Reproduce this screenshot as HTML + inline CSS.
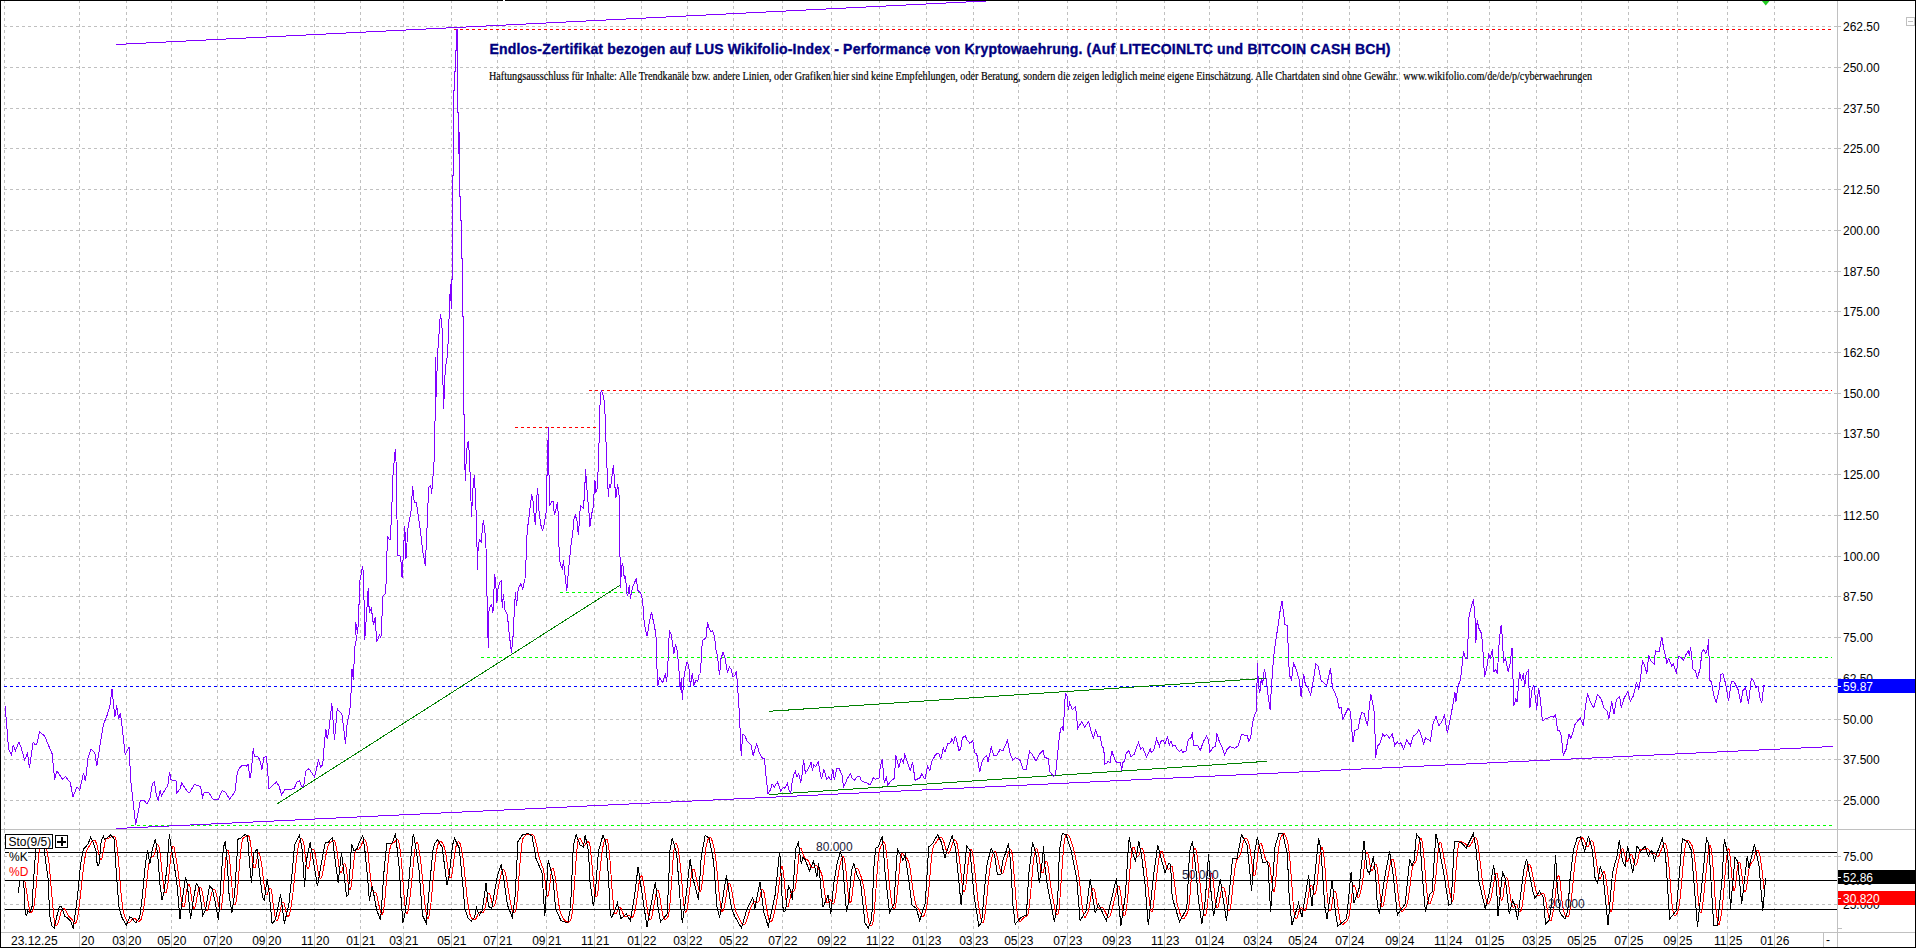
<!DOCTYPE html>
<html><head><meta charset="utf-8"><style>
html,body{margin:0;padding:0;background:#fff;overflow:hidden;width:1916px;height:948px}
svg{display:block}
text{font-family:"Liberation Sans",sans-serif}
</style></head><body>
<svg width="1916" height="948" viewBox="0 0 1916 948">
<rect x="0" y="0" width="1916" height="948" fill="#fff"/>
<path d="M4 26.5H1834M4 67.5H1834M4 108.5H1834M4 148.5H1834M4 189.5H1834M4 230.5H1834M4 271.5H1834M4 311.5H1834M4 352.5H1834M4 393.5H1834M4 433.5H1834M4 474.5H1834M4 515.5H1834M4 556.5H1834M4 596.5H1834M4 637.5H1834M4 678.5H1834M4 719.5H1834M4 759.5H1834M4 800.5H1834" stroke="#c0c0c0" stroke-width="1" stroke-dasharray="3 3" fill="none" shape-rendering="crispEdges"/>
<path d="M4.5 0V829M4.5 830V932M79.5 0V829M79.5 830V932M126.5 0V829M126.5 830V932M171.5 0V829M171.5 830V932M217.5 0V829M217.5 830V932M266.5 0V829M266.5 830V932M314.5 0V829M314.5 830V932M360.5 0V829M360.5 830V932M403.5 0V829M403.5 830V932M451.5 0V829M451.5 830V932M497.5 0V829M497.5 830V932M546.5 0V829M546.5 830V932M594.5 0V829M594.5 830V932M641.5 0V829M641.5 830V932M687.5 0V829M687.5 830V932M733.5 0V829M733.5 830V932M782.5 0V829M782.5 830V932M831.5 0V829M831.5 830V932M879.5 0V829M879.5 830V932M926.5 0V829M926.5 830V932M973.5 0V829M973.5 830V932M1018.5 0V829M1018.5 830V932M1067.5 0V829M1067.5 830V932M1116.5 0V829M1116.5 830V932M1164.5 0V829M1164.5 830V932M1209.5 0V829M1209.5 830V932M1257.5 0V829M1257.5 830V932M1302.5 0V829M1302.5 830V932M1349.5 0V829M1349.5 830V932M1399.5 0V829M1399.5 830V932M1447.5 0V829M1447.5 830V932M1489.5 0V829M1489.5 830V932M1536.5 0V829M1536.5 830V932M1581.5 0V829M1581.5 830V932M1628.5 0V829M1628.5 830V932M1677.5 0V829M1677.5 830V932M1727.5 0V829M1727.5 830V932M1774.5 0V829M1774.5 830V932" stroke="#c0c0c0" stroke-width="1" stroke-dasharray="3 3" fill="none" shape-rendering="crispEdges"/>
<path d="M4 856.5H1834M4 904.5H1834" stroke="#c0c0c0" stroke-width="1" stroke-dasharray="3 3" fill="none" shape-rendering="crispEdges"/>
<path d="M0 829.5H1916M0 932.5H1916M1837.5 0V948M1823.5 933V947" stroke="#c0c0c0" stroke-width="1" fill="none" shape-rendering="crispEdges"/>
<path d="M79.5 933V947M126.5 933V947M171.5 933V947M217.5 933V947M266.5 933V947M314.5 933V947M360.5 933V947M403.5 933V947M451.5 933V947M497.5 933V947M546.5 933V947M594.5 933V947M641.5 933V947M687.5 933V947M733.5 933V947M782.5 933V947M831.5 933V947M879.5 933V947M926.5 933V947M973.5 933V947M1018.5 933V947M1067.5 933V947M1116.5 933V947M1164.5 933V947M1209.5 933V947M1257.5 933V947M1302.5 933V947M1349.5 933V947M1399.5 933V947M1447.5 933V947M1489.5 933V947M1536.5 933V947M1581.5 933V947M1628.5 933V947M1677.5 933V947M1727.5 933V947M1774.5 933V947" stroke="#c0c0c0" stroke-width="1" fill="none" shape-rendering="crispEdges"/>
<path d="M1834 26.5H1841M1834 67.5H1841M1834 108.5H1841M1834 148.5H1841M1834 189.5H1841M1834 230.5H1841M1834 271.5H1841M1834 311.5H1841M1834 352.5H1841M1834 393.5H1841M1834 433.5H1841M1834 474.5H1841M1834 515.5H1841M1834 556.5H1841M1834 596.5H1841M1834 637.5H1841M1834 678.5H1841M1834 719.5H1841M1834 759.5H1841M1834 800.5H1841M1834 856.5H1841M1834 880.5H1841M1834 904.5H1841M1838 928.5H1842" stroke="#c0c0c0" stroke-width="1" fill="none" shape-rendering="crispEdges"/>
<text x="1843" y="31" font-size="12" fill="#000">262.50</text>
<text x="1843" y="72" font-size="12" fill="#000">250.00</text>
<text x="1843" y="113" font-size="12" fill="#000">237.50</text>
<text x="1843" y="153" font-size="12" fill="#000">225.00</text>
<text x="1843" y="194" font-size="12" fill="#000">212.50</text>
<text x="1843" y="235" font-size="12" fill="#000">200.00</text>
<text x="1843" y="276" font-size="12" fill="#000">187.50</text>
<text x="1843" y="316" font-size="12" fill="#000">175.00</text>
<text x="1843" y="357" font-size="12" fill="#000">162.50</text>
<text x="1843" y="398" font-size="12" fill="#000">150.00</text>
<text x="1843" y="438" font-size="12" fill="#000">137.50</text>
<text x="1843" y="479" font-size="12" fill="#000">125.00</text>
<text x="1843" y="520" font-size="12" fill="#000">112.50</text>
<text x="1843" y="561" font-size="12" fill="#000">100.00</text>
<text x="1843" y="601" font-size="12" fill="#000">87.50</text>
<text x="1843" y="642" font-size="12" fill="#000">75.00</text>
<text x="1843" y="683" font-size="12" fill="#000">62.50</text>
<text x="1843" y="724" font-size="12" fill="#000">50.00</text>
<text x="1843" y="764" font-size="12" fill="#000">37.500</text>
<text x="1843" y="805" font-size="12" fill="#000">25.000</text>
<text x="1843" y="861" font-size="12" fill="#000">75.00</text>
<text x="1843" y="909" font-size="12" fill="#000">25.000</text>
<text x="1843" y="885" font-size="12" fill="#000">50.00</text>
<path d="M454 29.5H1832M589 390.5H1832M515 427.5H600" stroke="#ff0000" stroke-width="1" stroke-dasharray="3 3" fill="none" shape-rendering="crispEdges"/>
<path d="M481 657.5H1832M131 825.5H1832M560 592.5H645" stroke="#00ff00" stroke-width="1" stroke-dasharray="3 3" fill="none" shape-rendering="crispEdges"/>
<path d="M4 686.5H1837" stroke="#0000ff" stroke-width="1" stroke-dasharray="3 3" fill="none" shape-rendering="crispEdges"/>
<path d="M116 44.5H126M126 43.5H146M146 42.5H166M166 41.5H186M186 40.5H206M206 39.5H226M226 38.5H246M246 37.5H266M266 36.5H286M286 35.5H306M306 34.5H326M326 33.5H346M346 32.5H366M366 31.5H386M386 30.5H406M406 29.5H426M426 28.5H446M446 27.5H466M466 26.5H486M486 25.5H506M506 24.5H526M526 23.5H546M546 22.5H566M566 21.5H586M586 20.5H606M606 19.5H626M626 18.5H646M646 17.5H666M666 16.5H686M686 15.5H706M706 14.5H726M726 13.5H746M746 12.5H766M766 11.5H786M786 10.5H806M806 9.5H826M826 8.5H846M846 7.5H866M866 6.5H886M886 5.5H906M906 4.5H926M926 3.5H946M946 2.5H966M966 1.5H986M986 0.5H1006M116 828.5H127M127 827.5H148M148 826.5H169M169 825.5H190M190 824.5H211M211 823.5H232M232 822.5H253M253 821.5H274M274 820.5H295M295 819.5H315M315 818.5H336M336 817.5H357M357 816.5H378M378 815.5H399M399 814.5H420M420 813.5H441M441 812.5H462M462 811.5H483M483 810.5H504M504 809.5H525M525 808.5H546M546 807.5H567M567 806.5H587M587 805.5H608M608 804.5H629M629 803.5H650M650 802.5H671M671 801.5H692M692 800.5H713M713 799.5H734M734 798.5H755M755 797.5H776M776 796.5H797M797 795.5H818M818 794.5H838M838 793.5H859M859 792.5H880M880 791.5H901M901 790.5H922M922 789.5H943M943 788.5H964M964 787.5H985M985 786.5H1006M1006 785.5H1027M1027 784.5H1048M1048 783.5H1069M1069 782.5H1090M1090 781.5H1110M1110 780.5H1131M1131 779.5H1152M1152 778.5H1173M1173 777.5H1194M1194 776.5H1215M1215 775.5H1236M1236 774.5H1257M1257 773.5H1278M1278 772.5H1299M1299 771.5H1320M1320 770.5H1341M1341 769.5H1361M1361 768.5H1382M1382 767.5H1403M1403 766.5H1424M1424 765.5H1445M1445 764.5H1466M1466 763.5H1487M1487 762.5H1508M1508 761.5H1529M1529 760.5H1550M1550 759.5H1571M1571 758.5H1592M1592 757.5H1613M1613 756.5H1633M1633 755.5H1654M1654 754.5H1675M1675 753.5H1696M1696 752.5H1717M1717 751.5H1738M1738 750.5H1759M1759 749.5H1780M1780 748.5H1801M1801 747.5H1822M1822 746.5H1833" stroke="#8000ff" stroke-width="1" fill="none" shape-rendering="crispEdges"/>
<path d="M277 804L620.5 585M769 711.3L1267 678.2M769 794.6L1267 761.3" stroke="#008000" stroke-width="1" fill="none" shape-rendering="crispEdges"/>
<polyline points="5.1,706.5 7.6,736.0 8.5,749.0 11.4,755.0 13.3,745.0 15.2,751.0 19.0,742.0 20.9,747.0 24.7,760.0 27.5,753.0 29.4,768.0 33.2,742.0 35.1,745.0 37.0,743.5 39.5,731.7 44.6,736.0 52.2,754.0 54.6,779.5 56.9,771.0 62.6,779.5 65.5,776.7 70.2,782.4 73.0,796.6 76.9,787.0 79.7,790.0 83.5,773.0 85.4,781.4 88.2,756.8 91.1,749.0 94.9,753.0 96.8,766.0 100.6,741.6 103.4,724.5 107.2,715.0 110.0,705.5 112.0,689.4 114.8,717.0 116.7,705.5 118.6,718.8 120.5,713.0 125.2,755.0 129.0,747.3 131.0,783.0 135.7,825.0 140.4,800.4 144.2,800.4 147.0,804.0 150.0,798.5 152.5,783.3 154.4,781.4 156.3,794.7 158.2,800.4 160.1,790.3 161.4,796.0 165.2,789.6 167.7,785.8 169.6,771.9 170.9,779.5 174.0,780.8 176.0,780.8 176.6,793.4 180.4,788.4 181.6,782.7 183.5,785.8 188.0,792.2 189.9,792.2 194.3,784.6 200.6,786.5 202.5,797.2 204.4,792.2 208.9,792.8 213.3,799.7 218.4,799.1 222.2,790.3 225.3,792.2 229.7,799.1 234.8,792.2 237.3,773.2 238.6,769.4 240.5,766.8 243.0,764.9 246.2,766.2 248.1,764.3 250.0,778.2 251.3,771.3 253.2,748.5 254.4,756.7 257.6,756.7 259.5,759.2 262.0,769.4 263.9,757.3 266.5,756.7 269.0,789.0 272.2,785.8 276.6,782.0 279.1,786.5 281.6,794.7 285.4,789.0 289.2,789.6 294.3,788.4 296.8,782.0 299.4,780.8 301.9,787.0 303.8,785.8 305.7,771.3 308.9,768.7 314.6,777.0 318.4,760.5 320.9,767.5 322.8,764.3 324.7,739.6 326.0,729.5 327.2,739.0 329.1,728.9 331.8,703.5 334.5,740.4 337.2,708.7 339.8,711.9 341.9,714.0 345.5,743.5 347.2,722.4 349.3,714.0 350.3,705.6 351.4,686.6 352.0,668.6 353.5,680.3 354.5,648.6 356.2,640.2 355.6,622.2 357.7,633.8 358.8,610.6 359.8,581.1 362.6,566.3 363.6,574.8 364.7,640.2 366.1,621.2 368.2,588.5 369.3,612.7 371.4,608.5 373.5,625.4 375.2,617.0 376.7,642.3 379.4,634.9 380.9,638.1 383.0,595.9 385.1,593.8 386.5,578.3 386.9,553.0 387.9,537.2 390.0,540.3 391.1,523.5 392.2,498.1 392.8,477.0 394.3,460.2 395.3,448.6 396.4,468.6 397.0,519.2 397.8,555.1 400.6,556.2 402.1,578.3 403.8,544.6 404.8,525.6 405.9,559.3 408.0,527.7 411.1,510.8 412.6,486.5 414.3,502.4 416.4,502.4 420.6,531.9 422.7,550.9 425.3,565.7 427.4,519.2 428.6,487.6 430.8,485.5 431.6,493.9 433.3,472.8 434.3,458.1 435.2,411.0 435.4,357.0 436.5,397.2 437.3,356.1 438.6,341.3 439.6,323.4 440.5,313.9 441.5,321.3 442.6,335.0 442.8,376.1 443.6,408.8 445.3,367.7 447.0,358.2 448.5,337.1 449.5,302.3 450.6,284.3 451.2,308.6 451.5,279.0 452.5,279.0 452.5,175.0 453.5,175.0 453.5,90.0 454.5,90.0 454.5,71.0 455.5,71.0 455.5,50.0 456.5,50.0 456.5,29.0 457.5,29.0 457.5,112.0 458.5,112.0 458.5,154.0 459.5,132.0 459.5,196.0 460.5,196.0 460.5,220.0 461.5,220.0 461.5,258.0 462.5,258.0 462.5,316.0 463.5,316.0 463.5,414.0 464.5,414.0 464.5,456.0 465.4,481.0 466.4,454.0 467.6,443.0 468.4,442.2 469.3,454.0 470.1,474.3 471.0,501.3 471.5,517.3 472.7,491.1 474.3,475.1 475.2,491.1 476.0,509.7 476.9,540.1 477.4,570.4 478.2,545.1 479.4,540.1 481.1,541.8 482.3,530.0 483.3,519.8 484.5,528.3 485.7,538.4 486.7,570.4 487.3,621.0 488.4,648.0 489.0,610.9 490.4,605.8 491.7,604.1 492.9,613.4 493.8,594.0 494.6,573.8 495.8,583.9 496.8,603.3 498.0,588.9 499.7,582.2 501.4,580.5 502.2,607.5 503.5,594.0 504.7,609.2 507.3,614.3 509.3,634.5 511.5,653.1 513.2,634.5 514.3,610.9 515.4,592.3 516.5,605.8 518.2,588.9 520.8,583.9 522.8,588.9 525.0,578.8 526.2,556.9 526.7,540.1 527.5,528.3 528.9,518.1 530.0,508.0 531.7,494.5 532.9,499.6 534.3,516.5 535.4,524.9 536.8,497.9 537.6,487.8 539.2,513.3 540.9,525.1 542.6,531.1 544.3,523.5 546.0,513.3 546.8,484.6 547.7,447.5 548.5,427.3 548.8,467.8 549.9,505.7 551.5,501.5 553.2,501.5 554.4,515.0 556.1,508.3 557.4,502.4 558.6,520.1 559.2,558.8 560.9,565.6 562.6,568.9 563.4,560.5 565.1,575.7 566.8,590.9 568.2,574.0 569.3,562.2 571.0,545.3 572.7,533.5 573.8,520.1 575.2,515.0 576.9,520.1 577.8,530.1 578.5,535.3 579.7,513.3 580.9,505.7 583.1,508.3 584.3,498.1 585.6,469.5 587.3,494.8 588.7,508.3 589.9,526.8 591.5,515.0 593.2,506.6 594.9,479.6 595.8,493.1 597.4,488.0 598.8,450.9 600.0,405.3 601.2,390.1 602.5,393.5 603.9,398.6 605.0,413.8 606.7,461.0 608.4,496.5 609.3,484.6 610.4,488.0 611.8,477.9 613.4,465.2 614.7,483.8 615.9,498.1 617.6,483.8 619.3,497.3 619.8,542.8 620.5,588.4 621.5,566.5 622.7,563.1 624.3,578.3 625.5,576.6 626.9,593.5 627.7,596.0 629.4,585.0 630.3,598.5 632.8,586.7 635.0,581.6 636.2,578.3 637.8,590.1 639.5,591.8 641.2,594.3 642.6,600.1 644.3,623.8 646.0,632.2 647.2,636.4 649.3,622.1 651.5,611.9 653.2,620.4 654.9,628.8 656.1,637.3 656.9,666.0 657.8,686.2 659.5,677.8 661.2,680.3 662.8,682.8 664.5,676.1 665.4,674.4 666.7,682.0 667.9,664.3 668.8,640.6 669.6,631.4 671.3,634.7 673.0,647.4 673.8,654.1 675.5,644.0 676.9,649.1 678.5,662.6 680.2,689.6 681.4,677.8 682.3,699.7 683.9,677.8 685.6,667.6 687.0,662.6 688.7,665.1 690.4,686.2 692.4,672.7 693.7,686.2 695.8,680.3 697.8,681.1 699.1,674.4 700.5,673.5 701.7,649.1 702.5,640.6 705.9,638.1 707.6,622.1 709.3,628.8 711.0,632.2 712.6,630.5 714.6,637.4 716.3,652.2 717.4,655.4 719.5,675.4 721.0,658.5 723.1,652.2 725.2,658.5 727.3,672.2 729.4,667.0 731.1,669.1 732.8,676.5 734.9,675.4 736.4,671.2 737.4,683.8 739.5,715.5 741.2,755.6 742.7,734.5 744.8,735.5 746.9,740.8 749.0,742.9 751.1,745.0 753.2,755.6 755.4,747.1 756.8,744.0 758.9,751.4 761.7,757.7 764.4,758.7 765.9,774.6 768.0,793.5 770.1,790.4 772.2,784.0 774.3,787.2 777.5,781.9 780.7,791.4 783.4,787.2 785.0,788.3 787.4,783.1 788.8,789.3 790.7,793.1 792.1,782.6 793.5,775.0 795.4,771.3 796.9,777.0 798.8,773.6 800.7,782.6 802.1,774.1 803.5,759.9 805.4,773.2 807.8,769.8 811.1,762.2 812.5,771.3 813.5,764.6 815.8,766.5 818.2,762.2 821.5,779.3 823.9,769.4 826.8,779.3 828.7,776.9 831.0,780.3 832.9,769.4 834.4,780.3 836.7,768.4 839.1,768.4 842.4,776.0 843.4,787.4 845.3,783.6 847.2,778.8 850.5,773.6 851.9,777.9 854.8,780.3 857.1,776.5 860.0,777.0 861.4,780.7 864.3,782.2 866.6,782.6 870.0,785.0 873.3,777.9 875.2,779.3 879.0,777.9 880.4,765.6 882.3,759.4 884.2,782.6 886.6,776.5 887.5,785.5 890.4,781.7 894.6,777.9 895.6,754.6 898.9,767.0 901.3,758.4 903.6,763.2 904.6,753.2 906.5,759.9 910.3,770.3 912.7,762.2 915.0,780.3 919.8,777.9 921.7,774.1 925.0,779.3 927.5,766.4 929.9,770.5 931.6,761.8 935.1,755.4 937.4,753.1 939.1,754.2 940.9,758.9 943.2,747.9 944.9,751.9 947.8,743.8 950.7,742.6 951.9,738.6 953.6,742.6 955.4,735.7 957.1,742.6 958.9,750.2 960.6,749.6 962.3,738.0 965.2,735.7 967.0,739.7 969.9,743.2 972.8,740.9 974.5,752.5 976.8,754.2 979.7,772.2 982.1,761.2 984.4,757.7 986.7,755.4 987.9,762.4 991.3,747.3 993.7,755.4 996.6,756.0 1000.0,749.6 1002.9,750.8 1007.6,740.3 1009.9,753.1 1012.8,760.0 1015.1,757.7 1019.8,760.0 1023.2,769.3 1026.1,769.3 1029.6,751.3 1032.5,754.8 1036.0,761.2 1039.5,754.2 1043.0,750.2 1044.7,757.7 1048.2,758.3 1049.9,771.6 1053.4,776.3 1055.6,774.5 1057.3,756.6 1059.6,734.5 1060.8,728.7 1062.2,726.4 1063.4,731.0 1064.3,710.2 1065.4,693.3 1067.2,696.2 1068.3,710.2 1069.5,702.6 1072.4,709.6 1075.3,706.7 1076.5,713.6 1077.6,728.7 1079.9,724.7 1081.7,721.8 1084.6,727.0 1088.6,721.8 1091.0,731.0 1093.3,738.0 1095.6,730.5 1097.9,736.3 1100.2,736.3 1102.0,746.1 1103.7,748.4 1104.9,764.1 1106.6,763.5 1107.8,761.2 1110.1,762.4 1111.8,750.8 1115.3,761.2 1117.6,762.9 1120.5,762.9 1121.7,770.5 1122.9,762.4 1124.6,761.2 1126.3,753.1 1128.7,750.8 1131.0,756.6 1134.5,754.2 1136.2,747.9 1138.5,742.6 1140.8,749.0 1142.6,747.3 1146.6,757.1 1149.0,751.9 1150.1,748.4 1151.3,752.5 1153.6,750.2 1156.5,738.6 1159.4,746.1 1160.6,741.5 1162.9,740.3 1165.2,743.8 1167.5,736.3 1169.3,745.0 1171.0,740.9 1172.7,746.1 1175.1,745.0 1177.4,749.6 1179.7,751.3 1181.4,749.6 1182.6,752.5 1186.1,750.8 1188.4,739.2 1190.7,738.6 1192.5,732.2 1193.4,745.6 1197.6,745.6 1200.4,750.3 1203.3,741.8 1206.7,736.1 1208.6,739.9 1209.9,752.2 1212.8,747.5 1215.6,746.5 1216.9,733.3 1219.4,741.8 1222.3,747.5 1224.5,755.1 1227.0,749.4 1229.8,746.5 1234.6,748.4 1238.4,745.6 1241.2,735.2 1243.1,734.2 1245.0,736.1 1246.9,735.2 1248.8,740.9 1250.7,738.0 1252.6,722.8 1254.5,715.2 1256.4,711.4 1256.8,690.6 1257.6,663.1 1258.3,684.9 1259.8,692.5 1261.2,679.2 1262.5,684.9 1264.4,668.7 1265.9,677.3 1268.2,696.3 1270.1,709.5 1271.6,684.9 1273.5,658.3 1275.4,643.1 1277.7,628.0 1280.1,610.9 1282.0,601.4 1283.0,609.0 1284.9,624.2 1287.3,625.6 1287.8,638.0 1288.8,664.5 1289.7,675.9 1291.6,679.7 1293.5,662.6 1296.4,670.2 1299.2,679.7 1301.1,696.8 1303.6,674.0 1305.5,685.4 1307.4,686.3 1310.6,694.9 1313.5,679.7 1315.7,663.6 1318.2,666.4 1321.1,680.6 1326.7,685.4 1330.5,668.3 1332.4,687.3 1335.3,693.9 1337.2,698.7 1339.1,708.2 1341.0,707.2 1342.9,719.5 1345.3,713.9 1348.2,708.2 1350.5,712.0 1351.8,729.0 1352.9,742.3 1354.8,730.9 1358.1,729.0 1360.0,718.6 1361.9,712.0 1364.3,713.9 1366.2,721.4 1367.5,726.2 1369.4,706.3 1370.8,693.9 1372.7,703.4 1374.6,713.9 1375.5,757.5 1377.6,746.1 1379.9,743.3 1382.8,734.2 1384.7,736.1 1386.6,734.2 1389.5,738.0 1392.3,734.2 1394.8,745.6 1397.1,741.8 1399.0,743.7 1400.9,742.8 1403.7,749.4 1406.6,739.9 1410.4,745.6 1413.2,736.1 1416.1,734.2 1418.9,729.5 1420.8,734.2 1423.6,743.7 1425.5,738.0 1430.3,740.9 1433.1,723.8 1436.0,716.2 1438.8,725.7 1441.7,721.9 1444.5,715.2 1447.4,733.3 1450.2,719.0 1453.1,703.9 1455.0,692.5 1455.9,702.0 1457.8,686.8 1460.6,679.2 1462.5,662.1 1463.5,650.7 1465.4,658.3 1467.3,658.3 1468.8,618.5 1471.1,607.1 1473.4,599.5 1474.9,614.7 1475.8,643.1 1477.2,620.4 1478.7,628.0 1481.6,633.6 1483.5,658.3 1484.5,677.3 1486.4,669.7 1488.7,654.5 1490.2,658.3 1492.5,648.8 1494.0,671.6 1495.9,669.7 1497.4,673.5 1499.3,639.3 1501.2,625.1 1502.5,639.3 1503.5,662.1 1505.4,658.3 1508.2,671.6 1510.1,664.0 1512.0,647.9 1513.9,705.7 1515.8,699.1 1517.1,702.0 1519.6,671.6 1521.5,681.1 1523.4,673.5 1524.7,686.8 1526.2,673.5 1528.1,670.6 1530.0,707.6 1531.9,690.6 1533.8,684.9 1535.7,700.1 1536.7,709.5 1538.6,687.7 1540.5,700.1 1542.4,720.9 1545.2,719.0 1548.1,718.1 1550.9,716.2 1553.7,717.1 1555.6,714.3 1557.5,730.4 1559.4,730.4 1561.3,736.1 1563.2,755.1 1566.1,749.4 1568.9,734.2 1570.8,738.0 1572.8,733.3 1574.7,724.8 1577.6,721.0 1580.4,718.2 1583.3,725.7 1585.2,708.7 1587.5,693.5 1589.9,701.1 1593.7,707.7 1597.5,694.4 1601.3,699.2 1604.2,708.7 1607.0,710.6 1608.9,719.1 1611.7,701.1 1614.0,714.4 1616.5,699.2 1619.7,696.3 1621.2,707.7 1624.1,698.2 1627.9,691.6 1630.3,701.1 1633.6,695.4 1636.4,682.1 1638.7,689.7 1640.6,678.3 1642.5,660.3 1645.0,666.9 1646.9,673.6 1648.7,655.5 1650.6,660.3 1654.1,664.1 1655.4,650.8 1659.2,651.7 1661.7,636.6 1663.9,649.8 1665.8,657.4 1666.9,663.1 1668.8,658.4 1671.6,666.0 1673.5,664.1 1676.4,673.6 1678.3,656.5 1681.1,657.4 1683.6,660.3 1685.9,654.6 1688.1,650.8 1689.3,655.5 1690.6,647.0 1693.1,669.8 1695.4,670.7 1697.3,678.3 1700.1,668.8 1702.0,651.7 1703.9,649.8 1705.8,653.6 1707.7,648.0 1708.6,639.4 1709.6,680.2 1711.5,682.1 1713.4,693.5 1716.2,703.0 1719.1,689.7 1721.0,674.5 1722.9,673.6 1725.7,684.0 1728.6,701.1 1731.4,681.2 1734.3,682.1 1738.1,689.7 1740.9,703.0 1742.8,690.6 1745.6,687.8 1748.5,703.9 1751.3,678.3 1753.2,680.2 1756.1,687.8 1758.0,685.9 1759.9,697.3 1761.8,703.0 1763.7,685.9 1764.5,685.0" stroke="#8000ff" stroke-width="1" fill="none" shape-rendering="crispEdges"/>
<path d="M5 852.5H1837M5 880.5H1837M5 909.5H1837" stroke="#000" stroke-width="1" fill="none" shape-rendering="crispEdges"/>
<polyline points="23,880.0 24,881.3 25,881.6 26,887.5 27,894.4 28,901.2 29,907.3 30,912.1 31,912.6 32,911.6 33,910.2 34,905.9 35,898.3 36,888.1 37,875.8 38,863.0 39,852.8 40,845.4 41,840.7 42,838.2 43,837.6 44,838.9 45,841.1 46,844.9 47,850.6 48,856.7 49,863.4 50,873.5 51,885.6 52,897.1 53,908.3 54,918.2 55,923.9 56,925.5 57,925.1 58,922.9 59,919.9 60,915.9 61,912.3 62,909.8 63,908.3 64,908.2 65,909.4 66,911.3 67,913.3 68,915.1 69,916.6 70,917.7 71,918.5 72,919.6 73,921.1 74,922.9 75,923.6 76,922.6 77,919.8 78,914.8 79,907.5 80,899.1 81,890.1 82,880.8 83,872.2 84,864.1 85,857.6 86,853.1 87,850.0 88,847.7 89,846.4 90,845.0 91,843.2 92,841.5 93,840.4 94,839.9 95,840.6 96,842.4 97,845.1 98,849.6 99,854.4 100,858.4 101,859.6 102,858.0 103,853.4 104,847.6 105,842.3 106,839.3 107,838.3 108,838.0 109,838.1 110,837.9 111,837.1 112,836.4 113,836.1 114,836.2 115,836.6 116,840.2 117,846.7 118,855.8 119,867.2 120,880.9 121,892.6 122,901.9 123,909.1 124,914.0 125,916.8 126,919.1 127,921.2 128,922.4 129,922.7 130,922.2 131,921.0 132,919.5 133,918.4 134,918.1 135,918.5 136,919.5 137,920.6 138,921.2 139,921.3 140,920.8 141,919.5 142,916.4 143,912.0 144,905.9 145,897.9 146,888.5 147,879.1 148,870.1 149,862.8 150,858.9 151,857.8 152,857.1 153,856.6 154,855.4 155,852.3 156,847.9 157,845.1 158,844.8 159,847.2 160,852.9 161,861.7 162,871.5 163,881.4 164,888.9 165,892.8 166,892.8 167,889.5 168,883.0 169,874.5 170,864.0 171,854.8 172,848.9 173,845.9 174,846.7 175,851.6 176,858.0 177,864.2 178,870.8 179,878.5 180,887.1 181,896.8 182,903.5 183,907.0 184,906.8 185,903.0 186,895.5 187,889.2 188,885.3 189,884.5 190,887.2 191,893.5 192,901.0 193,906.3 194,908.5 195,907.3 196,902.9 197,896.7 198,891.7 199,888.4 200,886.8 201,887.7 202,891.2 203,896.2 204,902.0 205,906.9 206,910.0 207,911.0 208,909.4 209,905.4 210,900.7 211,895.8 212,891.9 213,889.4 214,888.8 215,890.3 216,893.3 217,897.1 218,901.8 219,906.9 220,909.9 221,908.9 222,903.5 223,894.3 224,881.5 225,868.2 226,857.5 227,851.2 228,850.0 229,854.5 230,864.0 231,875.7 232,887.4 233,897.9 234,903.8 235,904.7 236,902.1 237,895.1 238,884.0 239,870.8 240,859.0 241,849.0 242,842.2 243,838.3 244,837.7 245,837.0 246,836.2 247,835.7 248,835.3 249,836.4 250,840.4 251,847.1 252,855.7 253,863.9 254,868.1 255,867.7 256,864.4 257,859.0 258,853.6 259,852.7 260,855.5 261,860.5 262,867.3 263,875.9 264,883.9 265,890.2 266,893.9 267,894.5 268,892.0 269,889.4 270,887.8 271,889.2 272,894.1 273,902.6 274,910.2 275,916.1 276,919.8 277,920.8 278,918.7 279,915.6 280,911.8 281,907.1 282,903.3 283,901.8 284,902.9 285,906.6 286,911.4 287,915.1 288,916.6 289,915.7 290,912.2 291,906.7 292,900.1 293,892.6 294,883.6 295,873.2 296,863.2 297,854.8 298,847.9 299,842.8 300,839.8 301,838.5 302,838.8 303,840.6 304,845.3 305,853.7 306,862.4 307,866.7 308,868.5 309,866.7 310,860.8 311,853.2 312,849.7 313,848.8 314,850.0 315,853.4 316,859.0 317,864.9 318,871.0 319,875.8 320,878.3 321,878.3 322,876.0 323,871.3 324,865.6 325,860.0 326,854.5 327,849.9 328,846.4 329,844.0 330,842.5 331,841.8 332,841.2 333,840.3 334,840.2 335,842.1 336,845.8 337,851.2 338,858.5 339,866.5 340,871.3 341,872.7 342,870.8 343,867.3 344,864.0 345,863.8 346,867.0 347,874.0 348,881.8 349,887.8 350,889.8 351,887.2 352,879.3 353,869.2 354,859.8 355,853.1 356,849.2 357,848.8 358,849.4 359,849.0 360,847.5 361,845.7 362,843.5 363,841.2 364,839.5 365,839.7 366,841.7 367,846.3 368,853.4 369,862.6 370,872.8 371,882.1 372,888.1 373,891.0 374,892.4 375,892.3 376,893.0 377,895.9 378,900.7 379,905.4 380,909.6 381,913.1 382,914.7 383,912.6 384,907.0 385,898.1 386,886.6 387,873.9 388,862.6 389,854.2 390,848.6 391,845.0 392,843.4 393,843.2 394,842.7 395,841.6 396,840.0 397,838.9 398,839.8 399,843.0 400,848.6 401,857.4 402,869.3 403,882.0 404,895.1 405,905.5 406,912.2 407,913.9 408,911.2 409,904.7 410,897.0 411,887.8 412,877.9 413,867.6 414,857.1 415,848.7 416,843.7 417,842.3 418,844.3 419,849.6 420,856.1 421,864.1 422,873.6 423,884.3 424,895.0 425,904.7 426,912.2 427,917.5 428,918.5 429,915.9 430,910.6 431,902.7 432,892.4 433,881.5 434,870.9 435,861.8 436,854.3 437,848.5 438,844.5 439,842.5 440,841.6 441,841.7 442,842.4 443,843.8 444,846.5 445,850.3 446,855.3 447,861.6 448,869.2 449,874.5 450,877.5 451,877.5 452,874.0 453,867.1 454,859.6 455,852.5 456,846.6 457,843.0 458,841.7 459,842.0 460,843.5 461,846.7 462,851.6 463,858.2 464,866.5 465,876.7 466,887.4 467,896.6 468,904.2 469,910.3 470,914.5 471,916.7 472,918.6 473,919.7 474,920.0 475,919.7 476,918.6 477,916.5 478,914.2 479,912.7 480,912.0 481,911.9 482,912.3 483,912.7 484,911.4 485,908.1 486,903.4 487,897.6 488,893.8 489,893.2 490,895.0 491,898.4 492,903.3 493,906.2 494,906.0 495,903.7 496,900.1 497,895.2 498,889.4 499,884.0 500,879.2 501,875.0 502,871.4 503,869.7 504,869.9 505,871.7 506,875.6 507,881.5 508,888.1 509,894.4 510,900.1 511,904.9 512,908.7 513,911.5 514,912.7 515,911.8 516,908.9 517,902.0 518,890.9 519,876.6 520,863.7 521,852.0 522,843.4 523,838.4 524,837.1 525,836.0 526,835.1 527,834.5 528,834.2 529,834.0 530,834.0 531,834.0 532,834.3 533,834.7 534,836.3 535,838.9 536,842.6 537,847.2 538,852.2 539,856.6 540,860.2 541,863.2 542,865.6 543,867.9 544,873.0 545,880.6 546,889.6 547,894.9 548,896.4 549,891.4 550,883.4 551,874.2 552,869.1 553,868.0 554,871.0 555,876.3 556,883.2 557,891.0 558,898.4 559,905.5 560,910.8 561,914.1 562,916.3 563,918.2 564,919.7 565,920.7 566,921.4 567,921.8 568,922.1 569,922.2 570,921.1 571,919.0 572,913.9 573,904.4 574,890.5 575,875.8 576,861.4 577,849.0 578,841.4 579,838.8 580,838.6 581,839.8 582,841.8 583,843.6 584,845.1 585,845.2 586,843.4 587,842.2 588,841.8 589,842.2 590,846.0 591,855.2 592,865.1 593,875.5 594,886.5 595,894.4 596,896.9 597,895.9 598,890.8 599,881.5 600,871.0 601,861.3 602,852.9 603,846.5 604,842.3 605,839.9 606,838.8 607,839.4 608,843.3 609,850.3 610,860.4 611,874.4 612,888.5 613,900.3 614,909.0 615,913.9 616,914.0 617,912.2 618,909.7 619,907.9 620,907.5 621,908.4 622,910.7 623,913.4 624,915.6 625,916.8 626,916.8 627,916.0 628,915.5 629,915.5 630,916.0 631,917.1 632,917.5 633,916.7 634,914.4 635,910.6 636,904.9 637,898.3 638,891.2 639,883.6 640,878.3 641,875.8 642,876.3 643,879.9 644,886.4 645,893.2 646,900.0 647,906.7 648,913.5 649,917.7 650,919.6 651,919.0 652,916.0 653,910.6 654,905.2 655,899.8 656,894.5 657,890.9 658,890.4 659,892.8 660,897.6 661,904.6 662,911.4 663,916.0 664,918.5 665,919.5 666,919.0 667,917.8 668,916.7 669,912.0 670,903.1 671,889.9 672,875.7 673,860.7 674,849.7 675,843.9 676,843.4 677,844.7 678,848.4 679,854.5 680,862.6 681,872.7 682,884.3 683,896.7 684,906.0 685,911.2 686,912.3 687,909.8 688,903.4 689,895.5 690,887.2 691,878.5 692,872.3 693,869.2 694,869.2 695,871.8 696,877.0 697,881.9 698,886.3 699,890.0 700,891.9 701,889.9 702,884.0 703,875.6 704,865.5 705,855.5 706,847.5 707,842.6 708,839.5 709,837.6 710,836.8 711,838.1 712,840.5 713,843.9 714,848.1 715,853.9 716,861.4 717,870.6 718,881.3 719,891.8 720,901.3 721,908.3 722,911.4 723,910.6 724,907.8 725,903.0 726,896.8 727,890.5 728,885.8 729,883.6 730,884.0 731,886.9 732,892.3 733,898.4 734,903.6 735,908.0 736,911.6 737,914.2 738,916.3 739,918.3 740,920.2 741,921.9 742,923.7 743,924.9 744,925.1 745,924.2 746,922.3 747,919.4 748,915.9 749,912.6 750,909.8 751,907.2 752,904.9 753,903.0 754,901.5 755,901.4 756,902.4 757,902.7 758,902.3 759,900.9 760,897.5 761,892.2 762,889.6 763,889.7 764,892.4 765,897.7 766,904.6 767,910.5 768,915.5 769,919.4 770,921.4 771,921.8 772,920.7 773,918.1 774,914.0 775,909.4 776,904.8 777,899.3 778,892.7 779,885.2 780,876.6 781,868.8 782,865.9 783,869.8 784,877.8 785,888.7 786,899.6 787,906.6 788,907.1 789,903.5 790,898.7 791,894.2 792,891.4 793,891.3 794,891.3 795,888.9 796,883.1 797,874.1 798,863.7 799,854.5 800,849.0 801,847.9 802,850.7 803,853.6 804,856.4 805,858.7 806,859.6 807,859.6 808,860.3 809,862.3 810,864.5 811,866.6 812,867.7 813,867.7 814,866.8 815,865.6 816,865.2 817,866.3 818,868.6 819,869.7 820,870.4 821,872.4 822,875.5 823,879.9 824,887.8 825,895.4 826,900.3 827,902.7 828,902.6 829,900.2 830,899.4 831,900.4 832,902.8 833,903.7 834,902.8 835,899.1 836,892.7 837,884.2 838,876.6 839,870.4 840,865.4 841,860.9 842,857.7 843,856.3 844,858.2 845,863.2 846,871.3 847,881.6 848,892.2 849,899.3 850,902.8 851,901.6 852,895.7 853,887.6 854,879.8 855,872.8 856,868.8 857,867.8 858,868.9 859,871.0 860,873.9 861,876.4 862,879.4 863,883.6 864,889.2 865,896.2 866,904.6 867,912.3 868,918.4 869,923.0 870,925.5 871,925.7 872,925.1 873,922.4 874,914.6 875,902.5 876,888.7 877,874.0 878,861.0 879,852.7 880,848.5 881,846.1 882,844.4 883,842.2 884,841.8 885,844.4 886,850.2 887,858.4 888,869.0 889,879.7 890,889.6 891,897.8 892,903.7 893,907.3 894,908.8 895,908.1 896,903.2 897,895.5 898,884.9 899,873.7 900,863.3 901,856.6 902,853.5 903,854.1 904,856.2 905,857.4 906,857.6 907,858.5 908,860.4 909,863.3 910,868.2 911,875.1 912,882.5 913,890.0 914,896.2 915,901.1 916,904.6 917,906.7 918,907.8 919,909.5 920,911.8 921,914.3 922,916.0 923,916.5 924,915.7 925,913.4 926,910.3 927,905.2 928,897.5 929,887.2 930,875.1 931,863.5 932,854.2 933,848.1 934,845.0 935,843.9 936,842.6 937,841.1 938,839.4 939,837.9 940,837.1 941,837.2 942,838.0 943,839.8 944,842.5 945,845.9 946,849.5 947,852.1 948,853.3 949,853.0 950,851.1 951,848.0 952,845.0 953,842.1 954,840.3 955,839.8 956,840.6 957,843.4 958,848.7 959,855.5 960,863.6 961,873.0 962,883.2 963,889.7 964,892.2 965,890.5 966,884.6 967,874.4 968,864.6 969,857.1 970,852.0 971,849.3 972,851.0 973,856.3 974,863.5 975,872.8 976,883.0 977,892.2 978,900.5 979,907.9 980,914.1 981,918.7 982,921.8 983,922.6 984,919.9 985,913.7 986,905.6 987,895.8 988,885.1 989,875.8 990,868.0 991,861.8 992,856.9 993,853.9 994,852.2 995,851.6 996,852.6 997,855.7 998,860.1 999,864.6 1000,868.8 1001,872.1 1002,873.9 1003,872.7 1004,869.7 1005,866.2 1006,862.3 1007,857.8 1008,854.3 1009,851.2 1010,849.4 1011,849.9 1012,853.4 1013,861.2 1014,873.5 1015,886.8 1016,899.9 1017,910.8 1018,917.7 1019,920.5 1020,921.6 1021,920.8 1022,919.6 1023,918.6 1024,917.7 1025,917.1 1026,916.5 1027,916.1 1028,913.7 1029,907.8 1030,899.1 1031,888.8 1032,876.9 1033,865.4 1034,856.8 1035,851.7 1036,849.0 1037,848.8 1038,851.9 1039,857.4 1040,864.0 1041,869.5 1042,872.7 1043,872.7 1044,868.8 1045,863.5 1046,861.3 1047,862.2 1048,866.1 1049,873.4 1050,881.4 1051,887.9 1052,893.7 1053,899.0 1054,904.2 1055,909.4 1056,913.2 1057,914.7 1058,913.9 1059,909.3 1060,897.8 1061,883.5 1062,869.4 1063,855.3 1064,843.7 1065,838.1 1066,835.6 1067,834.4 1068,834.9 1069,836.3 1070,838.2 1071,840.7 1072,843.8 1073,847.3 1074,851.1 1075,855.3 1076,859.9 1077,864.8 1078,870.3 1079,877.2 1080,885.7 1081,895.6 1082,904.5 1083,911.6 1084,915.9 1085,917.4 1086,916.0 1087,914.3 1088,911.7 1089,907.7 1090,902.5 1091,896.0 1092,890.9 1093,888.4 1094,888.8 1095,892.2 1096,898.5 1097,903.6 1098,906.8 1099,908.2 1100,908.2 1101,907.3 1102,907.0 1103,907.7 1104,909.3 1105,911.4 1106,913.6 1107,915.7 1108,917.1 1109,917.1 1110,916.0 1111,913.5 1112,909.8 1113,905.5 1114,901.3 1115,897.0 1116,892.8 1117,888.5 1118,886.0 1119,886.5 1120,890.0 1121,896.4 1122,905.4 1123,912.1 1124,915.4 1125,915.2 1126,911.5 1127,903.6 1128,893.8 1129,882.2 1130,869.4 1131,858.2 1132,850.7 1133,847.0 1134,847.1 1135,850.4 1136,854.2 1137,856.2 1138,856.3 1139,854.7 1140,851.8 1141,849.2 1142,848.2 1143,849.6 1144,853.9 1145,860.5 1146,867.8 1147,876.5 1148,886.5 1149,897.3 1150,905.9 1151,911.0 1152,911.7 1153,908.0 1154,899.9 1155,890.6 1156,881.7 1157,873.2 1158,865.2 1159,858.1 1160,853.7 1161,851.4 1162,851.5 1163,853.7 1164,857.6 1165,861.5 1166,865.3 1167,867.7 1168,869.0 1169,869.0 1170,867.7 1171,866.0 1172,866.5 1173,871.6 1174,878.6 1175,886.7 1176,895.3 1177,902.7 1178,906.8 1179,910.1 1180,913.5 1181,916.3 1182,918.1 1183,918.9 1184,918.6 1185,917.3 1186,915.5 1187,913.6 1188,911.1 1189,904.8 1190,894.8 1191,882.4 1192,869.7 1193,857.4 1194,849.8 1195,847.9 1196,850.2 1197,855.0 1198,863.0 1199,872.7 1200,882.8 1201,892.7 1202,902.1 1203,910.2 1204,914.6 1205,915.6 1206,913.8 1207,908.2 1208,898.7 1209,887.9 1210,878.2 1211,873.2 1212,873.5 1213,878.5 1214,888.1 1215,898.8 1216,905.1 1217,907.5 1218,906.8 1219,903.1 1220,897.6 1221,892.1 1222,888.3 1223,886.9 1224,888.0 1225,891.5 1226,897.4 1227,904.1 1228,909.1 1229,910.7 1230,909.0 1231,903.9 1232,895.4 1233,885.2 1234,875.7 1235,868.2 1236,862.8 1237,859.5 1238,858.2 1239,857.2 1240,855.2 1241,852.1 1242,847.9 1243,843.4 1244,840.2 1245,838.5 1246,838.1 1247,839.2 1248,841.0 1249,844.3 1250,849.3 1251,856.0 1252,864.3 1253,872.4 1254,876.1 1255,875.1 1256,870.3 1257,862.3 1258,853.1 1259,846.6 1260,843.7 1261,843.5 1262,845.4 1263,849.3 1264,853.9 1265,857.5 1266,860.0 1267,861.6 1268,862.2 1269,862.7 1270,866.8 1271,874.6 1272,883.4 1273,889.3 1274,891.6 1275,887.4 1276,876.7 1277,864.1 1278,853.8 1279,845.8 1280,840.1 1281,837.4 1282,835.5 1283,834.2 1284,833.7 1285,834.7 1286,836.7 1287,839.6 1288,843.5 1289,850.5 1290,861.3 1291,873.5 1292,887.0 1293,901.4 1294,911.9 1295,917.1 1296,919.1 1297,918.3 1298,914.9 1299,911.6 1300,908.9 1301,907.7 1302,908.1 1303,909.8 1304,910.9 1305,910.8 1306,908.6 1307,904.3 1308,898.0 1309,891.8 1310,886.7 1311,884.8 1312,885.9 1313,890.0 1314,893.3 1315,894.4 1316,891.5 1317,884.8 1318,874.4 1319,864.3 1320,855.3 1321,849.6 1322,847.2 1323,849.6 1324,856.7 1325,867.7 1326,880.1 1327,892.4 1328,902.9 1329,909.2 1330,911.1 1331,909.0 1332,904.2 1333,896.7 1334,892.1 1335,890.9 1336,893.2 1337,898.7 1338,906.8 1339,914.2 1340,919.6 1341,922.8 1342,924.3 1343,924.4 1344,923.5 1345,922.6 1346,921.8 1347,920.9 1348,919.2 1349,915.7 1350,910.3 1351,903.0 1352,893.9 1353,887.4 1354,885.1 1355,886.9 1356,890.2 1357,895.0 1358,897.5 1359,897.3 1360,894.5 1361,890.3 1362,884.7 1363,877.8 1364,869.5 1365,860.0 1366,854.2 1367,852.2 1368,853.9 1369,858.1 1370,864.6 1371,868.9 1372,870.4 1373,869.2 1374,866.6 1375,864.3 1376,863.9 1377,866.9 1378,874.3 1379,884.2 1380,894.2 1381,902.3 1382,906.5 1383,905.8 1384,902.1 1385,896.3 1386,889.4 1387,882.9 1388,876.6 1389,870.7 1390,865.1 1391,860.8 1392,858.9 1393,859.3 1394,862.1 1395,867.8 1396,875.5 1397,883.8 1398,892.6 1399,900.7 1400,906.6 1401,910.2 1402,911.7 1403,911.0 1404,909.5 1405,908.1 1406,906.8 1407,904.1 1408,899.8 1409,893.6 1410,885.8 1411,877.0 1412,870.4 1413,866.3 1414,863.8 1415,862.7 1416,860.9 1417,856.0 1418,849.8 1419,844.3 1420,839.7 1421,837.8 1422,841.3 1423,848.4 1424,858.0 1425,869.6 1426,882.7 1427,893.4 1428,900.3 1429,903.8 1430,904.1 1431,901.4 1432,898.1 1433,895.4 1434,890.8 1435,884.0 1436,875.0 1437,863.1 1438,852.4 1439,845.4 1440,842.3 1441,843.3 1442,848.3 1443,853.3 1444,858.5 1445,863.9 1446,869.4 1447,875.2 1448,881.3 1449,887.5 1450,893.5 1451,898.2 1452,901.5 1453,900.1 1454,893.7 1455,882.5 1456,869.9 1457,857.3 1458,848.2 1459,843.0 1460,841.6 1461,841.8 1462,842.0 1463,842.4 1464,842.9 1465,843.7 1466,844.6 1467,845.7 1468,846.3 1469,846.3 1470,845.6 1471,844.4 1472,842.5 1473,840.4 1474,838.4 1475,837.4 1476,837.9 1477,840.1 1478,844.7 1479,851.9 1480,860.8 1481,869.4 1482,877.6 1483,884.7 1484,890.3 1485,894.7 1486,899.0 1487,902.0 1488,903.5 1489,903.3 1490,901.5 1491,897.6 1492,892.8 1493,887.5 1494,881.7 1495,876.3 1496,873.6 1497,873.4 1498,877.6 1499,887.1 1500,894.9 1501,899.3 1502,900.5 1503,896.7 1504,888.1 1505,881.9 1506,878.1 1507,877.6 1508,881.0 1509,887.0 1510,894.3 1511,901.0 1512,905.4 1513,907.3 1514,907.0 1515,905.2 1516,904.2 1517,905.1 1518,907.8 1519,910.8 1520,911.8 1521,910.6 1522,906.8 1523,900.3 1524,892.3 1525,884.4 1526,877.4 1527,871.1 1528,866.5 1529,864.6 1530,865.0 1531,867.4 1532,871.6 1533,876.7 1534,881.8 1535,886.5 1536,890.8 1537,893.8 1538,895.4 1539,895.7 1540,895.0 1541,893.8 1542,893.2 1543,893.3 1544,894.0 1545,896.8 1546,901.9 1547,907.9 1548,913.3 1549,918.2 1550,921.1 1551,920.6 1552,917.2 1553,912.4 1554,906.0 1555,898.0 1556,887.7 1557,878.9 1558,875.6 1559,876.4 1560,881.0 1561,890.5 1562,900.9 1563,907.6 1564,912.2 1565,915.2 1566,916.6 1567,917.0 1568,916.6 1569,914.8 1570,910.0 1571,902.1 1572,893.0 1573,882.9 1574,872.0 1575,863.0 1576,856.0 1577,850.3 1578,845.5 1579,842.2 1580,840.0 1581,838.4 1582,837.6 1583,838.3 1584,839.9 1585,842.3 1586,844.9 1587,846.5 1588,846.5 1589,844.9 1590,842.6 1591,840.9 1592,840.8 1593,842.2 1594,846.0 1595,851.8 1596,859.0 1597,866.1 1598,872.7 1599,877.3 1600,878.7 1601,876.8 1602,874.5 1603,872.5 1604,871.5 1605,873.7 1606,879.1 1607,886.2 1608,894.7 1609,904.6 1610,910.5 1611,912.1 1612,909.3 1613,902.2 1614,891.5 1615,882.0 1616,874.1 1617,867.9 1618,863.4 1619,859.0 1620,854.1 1621,850.4 1622,848.7 1623,849.0 1624,851.6 1625,855.9 1626,860.0 1627,861.9 1628,860.6 1629,857.8 1630,855.7 1631,854.3 1632,855.0 1633,858.5 1634,863.1 1635,865.4 1636,865.4 1637,863.2 1638,858.7 1639,854.0 1640,850.8 1641,849.2 1642,848.9 1643,849.6 1644,849.8 1645,849.5 1646,848.7 1647,848.3 1648,848.8 1649,850.1 1650,851.6 1651,852.9 1652,853.4 1653,853.2 1654,853.2 1655,854.0 1656,855.1 1657,856.1 1658,856.5 1659,855.6 1660,853.4 1661,850.6 1662,847.8 1663,845.0 1664,843.4 1665,843.3 1666,844.9 1667,848.9 1668,856.6 1669,866.9 1670,879.3 1671,892.5 1672,903.5 1673,911.1 1674,915.3 1675,916.1 1676,914.8 1677,913.6 1678,910.8 1679,905.9 1680,898.8 1681,889.5 1682,878.1 1683,866.3 1684,856.0 1685,848.3 1686,843.2 1687,840.6 1688,840.4 1689,841.2 1690,842.4 1691,843.8 1692,845.5 1693,848.7 1694,854.2 1695,861.7 1696,871.3 1697,883.0 1698,895.5 1699,905.9 1700,911.7 1701,913.1 1702,910.1 1703,902.6 1704,892.9 1705,883.1 1706,873.3 1707,863.4 1708,854.7 1709,848.5 1710,845.5 1711,847.8 1712,855.3 1713,866.9 1714,881.2 1715,896.6 1716,908.7 1717,917.5 1718,923.0 1719,924.5 1720,921.5 1721,916.5 1722,909.4 1723,900.2 1724,888.5 1725,875.2 1726,863.6 1727,855.0 1728,849.2 1729,848.7 1730,855.6 1731,866.9 1732,878.2 1733,886.4 1734,890.5 1735,888.4 1736,880.2 1737,871.5 1738,865.2 1739,861.9 1740,863.0 1741,868.6 1742,876.1 1743,884.3 1744,890.1 1745,892.1 1746,890.1 1747,884.2 1748,875.7 1749,869.3 1750,866.1 1751,863.6 1752,862.0 1753,861.3 1754,859.2 1755,854.9 1756,851.5 1757,850.0 1758,850.3 1759,852.4 1760,856.3 1761,862.5 1762,870.2 1763,879.2 1764,888.6 1765,894.8" stroke="#ff0000" stroke-width="1" fill="none" shape-rendering="crispEdges"/>
<polyline points="18.4,893.4 19.6,880.0 23.7,880.0 24.8,908.5 26.3,916.3 27.9,910.7 29.6,912.4 31.9,908.5 33.5,880.5 34.7,864.9 35.8,849.2 38.0,838.0 41.0,836.0 44.2,849.2 45.8,862.7 48.1,878.3 49.7,915.2 52.0,926.4 54.2,928.1 56.5,917.4 59.3,906.8 61.5,906.8 64.8,916.3 67.1,917.4 70.4,920.8 73.2,928.1 76.0,908.5 78.3,888.4 80.5,864.9 83.3,849.2 85.0,847.6 88.3,843.7 90.6,836.9 93.3,842.5 96.1,851.5 97.3,866.0 98.9,865.5 101.2,841.4 103.4,835.8 104.5,839.2 106.2,838.6 109.0,836.4 110.7,834.7 112.4,836.9 114.0,838.6 116.8,879.4 119.1,908.5 121.9,917.4 126.3,925.3 129.7,916.9 131.4,917.4 135.8,923.0 139.7,917.4 142.0,899.5 145.3,864.9 147.6,850.4 149.8,863.8 152.6,848.1 155.4,839.2 157.6,853.7 159.9,883.9 162.1,900.1 164.3,890.6 167.1,866.0 169.4,834.1 171.0,845.9 172.7,855.9 176.6,880.5 180.0,918.6 182.2,900.7 185.6,877.2 187.3,883.9 190.6,919.1 193.4,899.5 196.3,883.3 198.9,887.3 202.8,915.2 205.6,909.6 209.5,886.1 212.3,888.9 215.1,901.8 218.5,920.2 221.3,875.0 223.5,847.0 225.4,841.4 227.4,864.9 229.1,895.1 231.9,913.0 234.7,892.8 236.9,858.2 238.0,839.2 240.8,838.1 244.7,834.7 247.5,835.3 249.8,866.0 251.5,882.8 253.7,853.7 257.0,849.2 259.8,875.0 262.6,897.3 264.3,900.1 267.1,879.4 268.8,889.5 272.1,923.6 275.5,919.7 280.5,894.5 282.2,906.3 284.4,923.6 288.9,904.0 292.3,871.6 294.5,844.8 299.5,834.7 302.3,850.4 304.6,887.3 306.2,861.5 310.1,842.5 313.5,861.5 317.4,886.1 321.9,860.4 325.2,842.5 328.0,842.5 332.5,837.5 334.2,852.6 338.1,882.8 341.5,852.6 344.8,880.5 346.5,896.2 348.2,895.1 349.8,872.7 351.5,843.7 353.7,850.4 356.5,849.8 359.3,842.5 362.7,835.3 364.9,850.4 367.7,879.4 369.4,900.7 372.2,885.6 376.7,910.2 380.6,920.2 383.9,872.7 386.7,843.7 391.8,843.1 392.8,841.4 395.6,833.6 397.3,850.4 399.5,870.5 401.2,900.7 402.9,922.5 405.1,912.9 408.4,886.1 411.2,853.7 413.3,833.6 415.2,843.7 419.1,870.5 422.4,915.2 426.3,923.0 429.7,883.9 433.0,850.4 434.7,843.7 437.5,839.7 442.0,847.0 444.8,867.1 447.0,885.0 449.3,875.0 452.6,844.8 454.6,838.6 459.3,848.1 462.7,883.9 464.9,908.5 468.3,918.6 471.1,921.3 474.4,917.4 476.6,907.9 479.4,915.2 482.2,910.7 486.1,882.8 488.4,906.3 491.7,908.5 497.3,876.1 501.2,864.9 504.0,880.5 507.4,905.1 512.4,917.4 515.2,895.1 518.0,841.4 522.5,834.7 528.1,833.6 532.0,835.8 535.9,858.2 542.0,872.7 544.8,916.3 548.2,860.4 553.2,879.4 555.5,908.5 561.0,920.8 567.8,923.0 570.5,908.5 573.3,845.9 576.1,834.7 580.0,844.8 583.4,847.0 585.1,835.3 588.4,850.4 590.0,881.7 593.4,906.3 595.6,889.5 598.4,851.5 602.9,835.3 605.7,841.4 608.5,877.2 610.2,914.1 611.8,917.4 615.2,909.6 617.4,902.9 620.8,918.6 626.4,914.1 630.3,920.8 634.2,898.4 638.1,866.6 643.1,900.7 647.0,926.9 651.0,905.1 655.4,881.7 658.2,908.5 660.5,921.9 667.2,914.1 670.0,850.4 672.2,838.1 676.7,853.7 680.0,898.4 682.3,923.0 686.2,895.1 690.1,859.3 692.9,878.3 698.5,899.5 701.3,855.9 705.2,835.3 709.1,838.1 713.6,861.5 716.9,906.3 719.7,917.4 726.4,875.5 731.5,908.5 734.8,916.3 741.5,928.1 747.1,908.5 752.7,897.9 754.9,908.5 760.0,881.7 763.9,913.0 768.3,926.4 775.1,895.1 779.5,852.6 780.6,860.4 781.7,892.8 783.4,911.8 785.6,910.7 788.4,886.1 790.1,888.9 792.3,899.5 794.0,875.0 795.7,849.2 798.4,842.5 801.2,863.8 802.9,857.1 805.2,859.9 809.6,871.0 813.5,861.0 816.9,877.2 818.6,862.7 821.4,892.8 823.0,907.4 828.1,895.1 830.9,913.5 833.7,883.9 837.0,863.8 840.4,852.0 842.0,857.1 843.7,878.3 846.5,911.8 848.8,901.8 851.5,870.5 853.8,863.8 857.1,875.0 860.5,881.7 865.0,923.0 868.3,928.1 871.7,919.7 873.9,867.1 875.6,848.1 878.4,847.0 882.3,835.8 885.1,872.7 889.6,913.0 894.0,904.0 897.4,848.7 903.0,860.4 905.2,854.8 909.7,887.3 911.9,905.1 916.4,908.5 919.7,920.8 925.3,902.9 928.7,847.0 932.6,843.7 937.6,834.7 941.5,842.5 944.9,858.2 947.1,850.4 952.2,835.8 955.5,848.1 958.9,881.7 961.1,905.1 966.7,845.9 970.0,850.4 974.0,895.1 978.9,926.4 981.7,921.9 985.6,877.2 987.3,862.7 991.2,848.7 994.6,854.8 997.4,875.0 1001.3,873.8 1002.4,861.5 1005.7,852.6 1008.5,843.1 1010.8,864.9 1013.0,906.3 1015.2,924.1 1020.8,917.4 1026.4,915.2 1028.7,875.0 1032.6,842.5 1035.9,853.7 1039.3,882.8 1042.1,862.7 1043.5,846.4 1044.9,866.0 1047.1,883.9 1054.4,921.9 1057.7,900.7 1059.4,850.4 1062.2,833.6 1066.1,834.7 1071.1,850.4 1076.7,878.3 1080.1,920.8 1086.2,910.7 1090.1,879.4 1095.2,913.0 1098.5,904.0 1106.4,920.8 1116.4,878.3 1120.9,925.8 1125.4,895.1 1128.2,850.4 1129.3,836.9 1131.0,848.1 1135.4,861.5 1138.8,841.4 1141.6,855.9 1145.0,883.9 1148.3,925.3 1153.9,872.7 1157.8,844.8 1161.1,858.2 1165.0,872.7 1169.0,862.7 1170.6,864.9 1172.2,897.3 1174.5,905.1 1179.5,921.9 1186.8,908.5 1189.6,851.5 1192.4,841.4 1195.7,867.1 1198.5,900.7 1201.9,924.1 1205.2,900.7 1208.6,854.3 1210.8,889.5 1213.6,916.3 1220.3,879.4 1226.5,920.8 1230.9,876.1 1232.6,858.2 1237.1,858.2 1241.5,834.7 1247.1,844.8 1251.6,890.6 1254.4,853.7 1257.4,836.9 1262.8,862.7 1267.8,861.5 1270.6,911.8 1275.1,845.9 1279.0,833.6 1282.9,833.6 1287.4,854.8 1289.1,895.1 1291.9,925.3 1298.6,902.9 1301.9,917.4 1308.6,875.5 1312.0,906.3 1315.3,870.5 1318.7,838.1 1320.9,850.4 1324.8,906.3 1327.1,919.1 1332.1,880.5 1335.5,913.0 1337.7,926.4 1346.6,918.6 1351.1,872.2 1353.9,902.9 1358.9,889.5 1364.0,840.9 1367.2,870.5 1369.5,873.8 1373.4,856.5 1375.6,875.0 1377.3,905.1 1379.5,913.5 1385.1,875.0 1389.6,851.5 1393.0,873.8 1397.4,915.2 1400.8,909.6 1405.2,904.0 1409.7,859.3 1412.0,866.0 1414.2,860.4 1416.4,834.1 1419.8,838.6 1422.6,879.4 1425.4,911.8 1429.8,894.0 1432.1,891.7 1436.0,833.6 1438.8,847.0 1443.3,870.5 1448.8,905.1 1451.1,904.0 1454.4,841.4 1456.7,841.4 1461.1,842.5 1466.2,848.1 1473.4,833.6 1476.2,850.4 1479.0,881.7 1485.2,908.5 1489.1,894.0 1493.6,864.9 1496.4,883.9 1498.0,916.3 1502.5,872.2 1505.3,878.3 1509.2,914.1 1512.6,900.7 1514.8,905.1 1517.6,919.7 1523.7,870.5 1526.5,858.7 1532.7,890.6 1534.9,898.4 1539.4,891.2 1543.3,897.3 1545.5,924.1 1549.5,919.7 1553.9,881.7 1555.6,854.8 1557.3,887.3 1560.1,913.0 1565.0,919.1 1567.8,910.7 1570.1,878.3 1573.4,850.4 1577.3,837.5 1580.7,836.9 1584.6,851.5 1588.5,835.8 1592.4,850.4 1595.2,879.4 1597.5,882.8 1600.2,866.6 1603.0,875.0 1608.1,925.3 1612.5,872.7 1617.0,855.9 1619.3,840.3 1622.6,861.5 1625.4,866.0 1627.6,845.9 1632.7,872.7 1637.1,845.9 1640.5,851.5 1645.0,846.4 1648.3,856.0 1651.7,850.4 1654.5,860.4 1658.9,848.1 1662.3,838.6 1665.6,856.0 1669.6,919.1 1676.3,910.7 1681.3,850.4 1682.4,838.6 1687.4,842.0 1691.4,850.4 1697.5,926.9 1702.5,878.3 1706.5,838.6 1708.7,843.7 1713.7,925.3 1717.6,925.3 1722.1,878.3 1724.3,839.2 1727.7,853.7 1730.5,908.5 1735.0,857.6 1737.8,861.5 1741.7,904.0 1747.3,855.9 1748.9,868.2 1754.5,844.2 1759.0,866.0 1762.8,910.8 1765.6,878.0" stroke="#000" stroke-width="1" fill="none" shape-rendering="crispEdges"/>
<text x="816" y="851" font-size="12" fill="#1a1a3a">80.000</text>
<text x="1182" y="879" font-size="12" fill="#1a1a3a">50.000</text>
<text x="1548" y="908" font-size="12" fill="#1a1a3a">20.000</text>
<rect x="5.5" y="834.5" width="47" height="14" fill="#fff" stroke="#000" stroke-width="1" shape-rendering="crispEdges"/>
<text x="8.5" y="846" font-size="12" fill="#000">Sto(9/5)</text>
<rect x="55.5" y="835.5" width="12" height="12" fill="#fff" stroke="#000" stroke-width="1" shape-rendering="crispEdges"/>
<path d="M57 841.5H66M61.5 837V846" stroke="#000" stroke-width="2" fill="none" shape-rendering="crispEdges"/>
<rect x="9" y="851" width="19" height="11" fill="#fff"/>
<text x="9" y="861" font-size="12" fill="#000">%K</text>
<text x="9" y="876" font-size="12" fill="#ff0000">%D</text>
<rect x="1838" y="679" width="78" height="14" fill="#0000ff"/>
<text x="1843" y="690.5" font-size="12" fill="#fff">59.87</text>
<rect x="1838" y="870" width="78" height="14" fill="#000"/>
<text x="1843" y="881.5" font-size="12" fill="#fff">52.86</text>
<rect x="1838" y="891" width="78" height="14" fill="#ff0000"/>
<text x="1843" y="902.5" font-size="12" fill="#fff">30.820</text>
<path d="M1838 686.5H1841M1838 877.5H1841M1838 898.5H1841" stroke="#fff" stroke-width="1" shape-rendering="crispEdges"/>
<text x="81" y="945" font-size="12" fill="#000">20</text><text x="125.5" y="945" font-size="12" fill="#000" text-anchor="end">03</text><text x="128" y="945" font-size="12" fill="#000">20</text><text x="170.5" y="945" font-size="12" fill="#000" text-anchor="end">05</text><text x="173" y="945" font-size="12" fill="#000">20</text><text x="216.5" y="945" font-size="12" fill="#000" text-anchor="end">07</text><text x="219" y="945" font-size="12" fill="#000">20</text><text x="265.5" y="945" font-size="12" fill="#000" text-anchor="end">09</text><text x="268" y="945" font-size="12" fill="#000">20</text><text x="313.5" y="945" font-size="12" fill="#000" text-anchor="end">11</text><text x="316" y="945" font-size="12" fill="#000">20</text><text x="359.5" y="945" font-size="12" fill="#000" text-anchor="end">01</text><text x="362" y="945" font-size="12" fill="#000">21</text><text x="402.5" y="945" font-size="12" fill="#000" text-anchor="end">03</text><text x="405" y="945" font-size="12" fill="#000">21</text><text x="450.5" y="945" font-size="12" fill="#000" text-anchor="end">05</text><text x="453" y="945" font-size="12" fill="#000">21</text><text x="496.5" y="945" font-size="12" fill="#000" text-anchor="end">07</text><text x="499" y="945" font-size="12" fill="#000">21</text><text x="545.5" y="945" font-size="12" fill="#000" text-anchor="end">09</text><text x="548" y="945" font-size="12" fill="#000">21</text><text x="593.5" y="945" font-size="12" fill="#000" text-anchor="end">11</text><text x="596" y="945" font-size="12" fill="#000">21</text><text x="640.5" y="945" font-size="12" fill="#000" text-anchor="end">01</text><text x="643" y="945" font-size="12" fill="#000">22</text><text x="686.5" y="945" font-size="12" fill="#000" text-anchor="end">03</text><text x="689" y="945" font-size="12" fill="#000">22</text><text x="732.5" y="945" font-size="12" fill="#000" text-anchor="end">05</text><text x="735" y="945" font-size="12" fill="#000">22</text><text x="781.5" y="945" font-size="12" fill="#000" text-anchor="end">07</text><text x="784" y="945" font-size="12" fill="#000">22</text><text x="830.5" y="945" font-size="12" fill="#000" text-anchor="end">09</text><text x="833" y="945" font-size="12" fill="#000">22</text><text x="878.5" y="945" font-size="12" fill="#000" text-anchor="end">11</text><text x="881" y="945" font-size="12" fill="#000">22</text><text x="925.5" y="945" font-size="12" fill="#000" text-anchor="end">01</text><text x="928" y="945" font-size="12" fill="#000">23</text><text x="972.5" y="945" font-size="12" fill="#000" text-anchor="end">03</text><text x="975" y="945" font-size="12" fill="#000">23</text><text x="1017.5" y="945" font-size="12" fill="#000" text-anchor="end">05</text><text x="1020" y="945" font-size="12" fill="#000">23</text><text x="1066.5" y="945" font-size="12" fill="#000" text-anchor="end">07</text><text x="1069" y="945" font-size="12" fill="#000">23</text><text x="1115.5" y="945" font-size="12" fill="#000" text-anchor="end">09</text><text x="1118" y="945" font-size="12" fill="#000">23</text><text x="1163.5" y="945" font-size="12" fill="#000" text-anchor="end">11</text><text x="1166" y="945" font-size="12" fill="#000">23</text><text x="1208.5" y="945" font-size="12" fill="#000" text-anchor="end">01</text><text x="1211" y="945" font-size="12" fill="#000">24</text><text x="1256.5" y="945" font-size="12" fill="#000" text-anchor="end">03</text><text x="1259" y="945" font-size="12" fill="#000">24</text><text x="1301.5" y="945" font-size="12" fill="#000" text-anchor="end">05</text><text x="1304" y="945" font-size="12" fill="#000">24</text><text x="1348.5" y="945" font-size="12" fill="#000" text-anchor="end">07</text><text x="1351" y="945" font-size="12" fill="#000">24</text><text x="1398.5" y="945" font-size="12" fill="#000" text-anchor="end">09</text><text x="1401" y="945" font-size="12" fill="#000">24</text><text x="1446.5" y="945" font-size="12" fill="#000" text-anchor="end">11</text><text x="1449" y="945" font-size="12" fill="#000">24</text><text x="1488.5" y="945" font-size="12" fill="#000" text-anchor="end">01</text><text x="1491" y="945" font-size="12" fill="#000">25</text><text x="1535.5" y="945" font-size="12" fill="#000" text-anchor="end">03</text><text x="1538" y="945" font-size="12" fill="#000">25</text><text x="1580.5" y="945" font-size="12" fill="#000" text-anchor="end">05</text><text x="1583" y="945" font-size="12" fill="#000">25</text><text x="1627.5" y="945" font-size="12" fill="#000" text-anchor="end">07</text><text x="1630" y="945" font-size="12" fill="#000">25</text><text x="1676.5" y="945" font-size="12" fill="#000" text-anchor="end">09</text><text x="1679" y="945" font-size="12" fill="#000">25</text><text x="1726.5" y="945" font-size="12" fill="#000" text-anchor="end">11</text><text x="1729" y="945" font-size="12" fill="#000">25</text><text x="1773.5" y="945" font-size="12" fill="#000" text-anchor="end">01</text><text x="1776" y="945" font-size="12" fill="#000">26</text>
<text x="11" y="945" font-size="12" fill="#000">23.12.25</text>
<text x="1826" y="944" font-size="12" fill="#000">-</text>
<text x="489.5" y="54" font-size="14" font-weight="bold" fill="#000080" stroke="#000080" stroke-width="0.35" textLength="901" lengthAdjust="spacing">Endlos-Zertifikat bezogen auf LUS Wikifolio-Index - Performance von Kryptowaehrung. (Auf LITECOINLTC und BITCOIN CASH BCH)</text>
<text x="489" y="80" font-size="13" fill="#000" stroke="#000" stroke-width="0.2" style="font-family:'Liberation Serif',serif" textLength="1103" lengthAdjust="spacingAndGlyphs">Haftungsausschluss für Inhalte: Alle Trendkanäle bzw. andere Linien, oder Grafiken hier sind keine Empfehlungen, oder Beratung, sondern die zeigen lediglich meine eigene Einschätzung. Alle Chartdaten sind ohne Gewähr.&#160; www.wikifolio.com/de/de/p/cyberwaehrungen</text>
<path d="M1762 1L1769.5 1L1765.75 5.5Z" fill="#22cc22"/>
<rect x="1906.5" y="17.5" width="8" height="8" fill="#fff" stroke="#c0c0c0" stroke-width="1" shape-rendering="crispEdges"/>
<path d="M1908 21.5H1913" stroke="#c0c0c0" stroke-width="1" shape-rendering="crispEdges"/>
<path d="M0.5 0V948M0 0.5H1916M1915.5 0V948M0 947.5H1916" stroke="#000" stroke-width="1" fill="none" shape-rendering="crispEdges"/>
<rect x="503" y="0" width="2" height="1" fill="#fff"/>
</svg></body></html>
